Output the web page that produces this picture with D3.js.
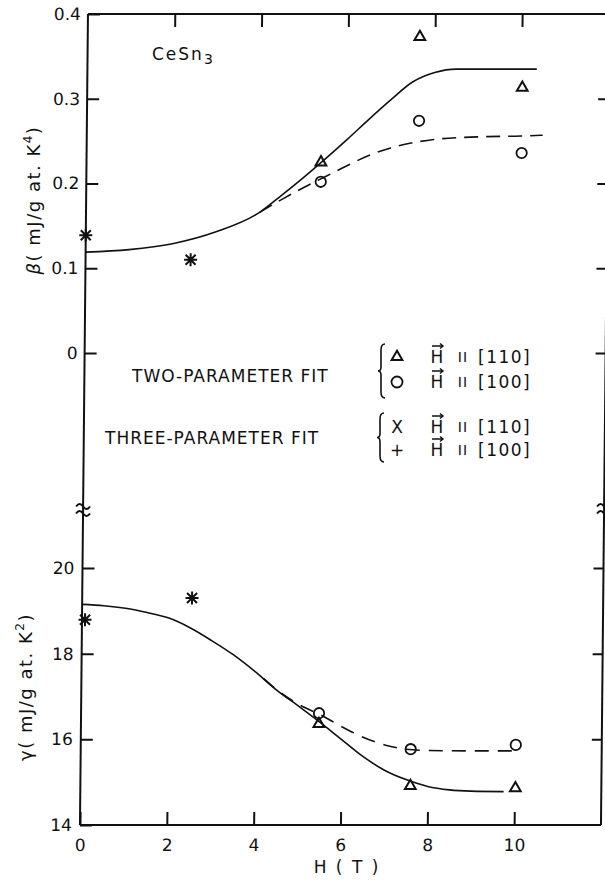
<!DOCTYPE html>
<html><head><meta charset="utf-8">
<script src="https://cdn.jsdelivr.net/npm/d3@7"></script>
<style>
body{margin:0;background:#fff}
text{font-family:"DejaVu Sans",sans-serif;fill:#111}
</style>
</head><body><script>
// ---------- data ----------
const fieldTicks = [0, 2, 4, 6, 8, 10];
const topTicks = [2, 4, 6, 8, 10];
const betaTicks = [0, 0.1, 0.2, 0.3, 0.4];
const gammaTicks = [14, 16, 18, 20];

// beta panel (two-parameter fit points)
const betaFieldH = [5.4, 7.65, 10.02];
const betaTri = [0.225, 0.373, 0.313];   // H || [110]
const betaCirc = [0.202, 0.274, 0.236];  // H || [100]
// three-parameter fit points (x and + overlap)
const betaStarH = [0.0, 2.42];
const betaStar = [0.139, 0.110];
// fitted curves
const betaSolidH = [0, 1, 2, 3, 4, 4.5, 5, 5.5, 6, 6.5, 7, 7.5, 8, 8.5, 9, 10, 10.35];
const betaSolid = [0.119, 0.122, 0.129, 0.143, 0.166, 0.186, 0.207, 0.229, 0.252, 0.276, 0.299, 0.320, 0.331, 0.335, 0.335, 0.335, 0.335];
const betaDashH = [4.0, 4.5, 5, 5.5, 6, 6.5, 7, 7.5, 8, 9, 10, 10.5];
const betaDash = [0.166, 0.181, 0.195, 0.208, 0.221, 0.233, 0.242, 0.248, 0.252, 0.255, 0.256, 0.257];

// gamma panel
const gammaFieldH = [5.48, 7.6, 10.02];
const gammaTri = [16.36, 14.91, 14.86];
const gammaCirc = [16.61, 15.77, 15.87];
const gammaStarH = [0.07, 2.53];
const gammaStar = [18.79, 19.30];
const gammaSolidH = [0, 0.5, 1, 1.5, 2, 2.5, 3, 3.5, 4, 4.5, 5, 5.5, 6, 6.5, 7, 7.5, 8, 8.5, 9, 9.75];
const gammaSolid = [19.15, 19.12, 19.06, 18.96, 18.83, 18.60, 18.30, 17.97, 17.58, 17.15, 16.78, 16.40, 16.00, 15.60, 15.28, 15.06, 14.90, 14.82, 14.79, 14.78];
const gammaDashH = [4.2, 4.5, 5, 5.5, 6, 6.5, 7, 7.5, 8, 9, 10.1];
const gammaDash = [17.42, 17.16, 16.82, 16.58, 16.30, 16.05, 15.87, 15.77, 15.74, 15.73, 15.73];

// ---------- layout ----------
const svg = d3.select("body").append("svg").attr("width", 605).attr("height", 880);
// scanned figure is slightly sheared
const g = svg.append("g").attr("transform", "skewX(-0.565)");

const x = d3.scaleLinear().domain([0, 12]).range([88.1, 609.1]);
const yB = d3.scaleLinear().domain([0, 0.4]).range([353, 14]);
const yG = d3.scaleLinear().domain([14, 20]).range([825, 568]);
const topY = yB(0.4), botY = yG(14), breakY = 509;

const ink = "#111";
const fontSize = 17;

// frame lines
const frame = g.append("g").attr("stroke", ink).attr("stroke-width", 2).attr("fill", "none");
frame.append("line").attr("x1", x(0)).attr("x2", x(0)).attr("y1", topY).attr("y2", botY);
frame.append("line").attr("x1", x(12)).attr("x2", x(12)).attr("y1", topY).attr("y2", botY);
frame.append("line").attr("x1", x(0)).attr("x2", x(12)).attr("y1", topY).attr("y2", topY);
frame.append("line").attr("x1", x(0)).attr("x2", x(12)).attr("y1", botY).attr("y2", botY);

function styleAxis(sel) {
  sel.select(".domain").remove();
  sel.selectAll(".tick line").attr("stroke", ink).attr("stroke-width", 2);
  sel.selectAll(".tick text").attr("font-size", fontSize).attr("font-family", "DejaVu Sans").attr("fill", ink);
}

// beta axes
g.append("g").attr("transform", `translate(${x(0)},0)`)
  .call(d3.axisLeft(yB).tickValues(betaTicks).tickSize(-12).tickPadding(7)
    .tickFormat(d => d === 0 ? "0" : d3.format(".1f")(d)))
  .call(styleAxis);
g.append("g").attr("transform", `translate(${x(12)},0)`)
  .call(d3.axisRight(yB).tickValues([0, 0.1, 0.2, 0.3]).tickSize(-10).tickFormat(""))
  .call(styleAxis);
g.append("g").attr("transform", `translate(0,${topY})`)
  .call(d3.axisTop(x).tickValues(topTicks).tickSize(-13).tickFormat(""))
  .call(styleAxis);

// gamma axes
g.append("g").attr("transform", `translate(${x(0)},0)`)
  .call(d3.axisLeft(yG).tickValues(gammaTicks).tickSize(-12).tickPadding(8).tickFormat(d3.format("d")))
  .call(styleAxis);
g.append("g").attr("transform", `translate(${x(12)},0)`)
  .call(d3.axisRight(yG).tickValues([16, 18, 20]).tickSize(-10).tickFormat(""))
  .call(styleAxis);
g.append("g").attr("transform", `translate(0,${botY})`)
  .call(d3.axisBottom(x).tickValues(fieldTicks).tickSize(-13).tickPadding(14).tickFormat(d3.format("d")))
  .call(styleAxis);

// break marks
function breakMark(cx) {
  const b = g.append("g").attr("stroke", ink).attr("stroke-width", 2).attr("fill", "none");
  [-3.5, 3.5].forEach(dy => {
    b.append("path").attr("d", `M${cx - 7},${breakY + dy + 1} q3.5,-5 7,0 t7,0`);
  });
}
breakMark(x(0));
breakMark(x(12));

// curves
const line = (xs, ys, sy) => d3.line().x((d, i) => x(xs[i])).y(d => sy(d)).curve(d3.curveMonotoneX)(ys);
const curves = g.append("g").attr("fill", "none").attr("stroke", ink).attr("stroke-width", 1.6);
curves.append("path").attr("d", line(betaSolidH, betaSolid, yB));
curves.append("path").attr("d", line(betaDashH, betaDash, yB)).attr("stroke-dasharray", "14,8");
curves.append("path").attr("d", line(gammaSolidH, gammaSolid, yG));
curves.append("path").attr("d", line(gammaDashH, gammaDash, yG)).attr("stroke-dasharray", "14,9");

// markers
const triSym = d3.symbol(d3.symbolTriangle, 50);
function tri(xs, ys, sy) {
  g.append("g").selectAll("path").data(ys).join("path")
    .attr("d", triSym).attr("transform", (d, i) => `translate(${x(xs[i])},${sy(d)})`)
    .attr("fill", "none").attr("stroke", ink).attr("stroke-width", 2);
}
function circ(xs, ys, sy) {
  g.append("g").selectAll("circle").data(ys).join("circle")
    .attr("cx", (d, i) => x(xs[i])).attr("cy", d => sy(d)).attr("r", 5.2)
    .attr("fill", "none").attr("stroke", ink).attr("stroke-width", 1.8);
}
function star(xs, ys, sy) {
  g.append("g").selectAll("path").data(ys).join("path")
    .attr("d", "M-5,-5L5,5M-5,5L5,-5M0,-6.5L0,6.5M-6.5,0L6.5,0")
    .attr("transform", (d, i) => `translate(${x(xs[i])},${sy(d)})`)
    .attr("stroke", ink).attr("stroke-width", 2);
}
tri(betaFieldH, betaTri, yB); circ(betaFieldH, betaCirc, yB); star(betaStarH, betaStar, yB);
tri(gammaFieldH, gammaTri, yG); circ(gammaFieldH, gammaCirc, yG); star(gammaStarH, gammaStar, yG);

// ---------- texts (unsheared) ----------
svg.append("text").attr("x", 152).attr("y", 60).attr("font-size", 17).attr("letter-spacing", 2)
  .text("CeSn").append("tspan").attr("font-size", 14).attr("dy", 4).text("3");

svg.append("text").attr("transform", "translate(40,200) rotate(-90)").attr("text-anchor", "middle")
  .attr("font-size", 18).attr("letter-spacing", 1.5)
  .call(t => {
    t.append("tspan").attr("font-style", "italic").text("β");
    t.append("tspan").text("( mJ/g at. K");
    t.append("tspan").attr("font-size", 12).attr("dy", -8).text("4");
    t.append("tspan").attr("dy", 8).text(")");
  });
svg.append("text").attr("transform", "translate(32,687) rotate(-90)").attr("text-anchor", "middle")
  .attr("font-size", 18).attr("letter-spacing", 1.5)
  .call(t => {
    t.append("tspan").text("γ");
    t.append("tspan").text("( mJ/g at. K");
    t.append("tspan").attr("font-size", 12).attr("dy", -8).text("2");
    t.append("tspan").attr("dy", 8).text(")");
  });

svg.append("text").attr("x", 347).attr("y", 873).attr("text-anchor", "middle")
  .attr("font-size", 17).attr("letter-spacing", 2).text("H ( T )");

// legend
const legendGroups = ["TWO-PARAMETER FIT", "THREE-PARAMETER FIT"];
const legendRows = [
  {sym: "tri", dir: "[110]"},
  {sym: "circ", dir: "[100]"},
  {sym: "X", dir: "[110]"},
  {sym: "+", dir: "[100]"}
];
const rowY = [357, 382, 427, 450];
const lg = svg.append("g");
lg.append("text").attr("x", 132).attr("y", 382).attr("font-size", 17).attr("letter-spacing", 1).text(legendGroups[0]);
lg.append("text").attr("x", 105).attr("y", 444).attr("font-size", 17).attr("letter-spacing", 1).text(legendGroups[1]);
function brace(xb, y0, y1) {
  const ym = (y0 + y1) / 2;
  lg.append("path").attr("fill", "none").attr("stroke", ink).attr("stroke-width", 1.6)
    .attr("d", `M${xb + 4},${y0} Q${xb},${y0} ${xb},${y0 + 6} L${xb},${ym - 4} Q${xb},${ym} ${xb - 3},${ym} Q${xb},${ym} ${xb},${ym + 4} L${xb},${y1 - 6} Q${xb},${y1} ${xb + 4},${y1}`);
}
brace(381, 344, 398);
brace(380, 413, 462);
legendRows.forEach((r, i) => {
  const cy = rowY[i];
  if (r.sym === "tri") {
    lg.append("path").attr("d", d3.symbol(d3.symbolTriangle, 50)).attr("transform", `translate(397,${cy})`)
      .attr("fill", "none").attr("stroke", ink).attr("stroke-width", 2);
  } else if (r.sym === "circ") {
    lg.append("circle").attr("cx", 397).attr("cy", cy).attr("r", 5.5).attr("fill", "none").attr("stroke", ink).attr("stroke-width", 1.8);
  } else {
    lg.append("text").attr("x", 397).attr("y", cy + 6).attr("text-anchor", "middle").attr("font-size", 17).text(r.sym);
  }
  lg.append("text").attr("x", 437).attr("y", cy + 6).attr("text-anchor", "middle").attr("font-size", 17).text("H");
  lg.append("path").attr("d", `M${432},${cy - 11} L${443},${cy - 11} M${440},${cy - 13.5} L${443},${cy - 11} L${440},${cy - 8.5}`)
    .attr("fill", "none").attr("stroke", ink).attr("stroke-width", 1.4);
  lg.append("text").attr("x", 463).attr("y", cy + 5).attr("text-anchor", "middle").attr("font-size", 14)
    .attr("letter-spacing", 1).text("II");
  lg.append("text").attr("x", 478).attr("y", cy + 6).attr("font-size", 17).attr("letter-spacing", 1.5).text(r.dir);
});
</script></body></html>
